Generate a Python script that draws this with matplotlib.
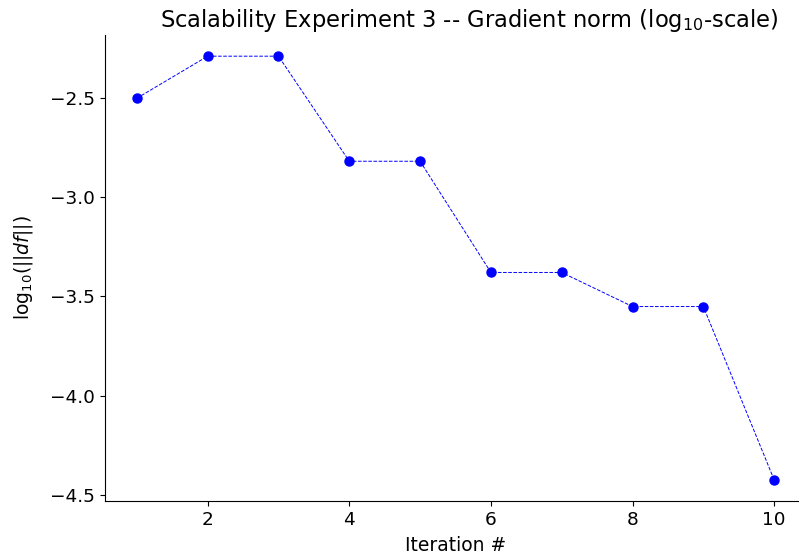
import matplotlib
matplotlib.use("Agg")
import matplotlib.pyplot as plt

iterations = [1, 2, 3, 4, 5, 6, 7, 8, 9, 10]
log_grad_norm = [-2.50, -2.288, -2.288, -2.818, -2.818, -3.379, -3.379, -3.551, -3.551, -4.425]

fig = plt.figure(figsize=(7.99, 5.58), dpi=100)
ax = fig.add_axes([105/799, 57/558, 701/799, 466/558])
ax.plot(iterations, log_grad_norm, 'o--', color='blue', markersize=6.5, linewidth=0.7)
ax.spines['top'].set_visible(False)
ax.spines['right'].set_visible(False)
ax.set_xticks([2, 4, 6, 8, 10])
ax.set_yticks([-2.5, -3.0, -3.5, -4.0, -4.5])
ax.tick_params(labelsize=13.3)
ax.set_title(r'Scalability Experiment 3 -- Gradient norm (log$_{10}$-scale)', fontsize=16.3, x=0.519)
ax.set_xlabel('Iteration #', fontsize=13.5, labelpad=5)
ax.set_ylabel(r'log$_{10}$(||$df$||)', fontsize=13.5, labelpad=11)
fig.savefig('out.png', dpi=100)
